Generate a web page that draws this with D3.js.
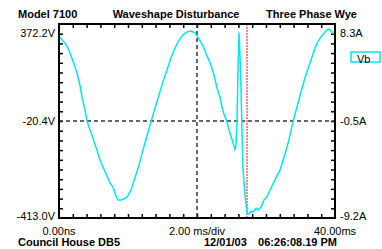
<!DOCTYPE html>
<html>
<head>
<meta charset="utf-8">
<script src="https://cdn.jsdelivr.net/npm/d3@7"></script>
<style>
  body { margin: 0; background: #fff; }
  text { font-family: "Liberation Sans", Arial, sans-serif; font-size: 11px; fill: #000; }
  .bold { font-weight: bold; }
</style>
</head>
<body>
<div id="chart"></div>
<script>
// waveform: time in ms, voltage in V
let timeMs = [0.15, 0.44, 0.87, 1.30, 1.59, 2.17, 2.61, 3.04, 3.33, 3.77, 4.06, 4.49, 4.78, 5.22, 5.51,
  5.94, 6.38, 6.96, 7.39, 7.83, 8.26, 8.55, 8.99, 9.42, 9.86, 10.43, 11.01, 11.59, 12.17, 12.75,
  13.33, 13.91, 14.49, 15.07, 15.65, 16.23, 16.81, 17.39, 17.97, 18.55, 19.13, 19.71, 20.29, 20.87,
  21.45, 22.03, 22.46, 22.90, 23.33, 23.62, 23.91, 24.35, 24.64, 24.93, 25.22, 25.51, 25.65, 25.80,
  25.94, 26.09, 26.23, 26.38, 26.52, 26.67, 26.96, 27.25, 27.54, 27.83, 28.12, 28.55, 28.84, 29.28,
  29.71, 30.14, 30.72, 31.30, 32.03, 32.75, 33.33, 33.91, 34.49, 35.07, 35.65, 36.23, 36.81, 37.39,
  37.97, 38.55, 38.99, 39.42, 39.86];
let voltage = [320, 307, 295, 275, 255, 210, 174, 125, 77, 24, -20, -57, -77, -118, -138,
  -178, -207, -243, -271, -288, -324, -340, -340, -336, -328, -300, -251, -199, -138, -81,
  -24, 32, 85, 138, 186, 235, 275, 307, 328, 340, 344, 336, 312, 283,
  243, 206, 166, 113, 77, 36, 8, -24, -57, -81, -109, -138, -118, -16,
  186, 336, 247, 117, -57, -219, -320, -393, -397, -385, -389, -373, -381, -369,
  -340, -328, -292, -259, -219, -154, -97, -24, 36, 97, 154, 202, 251, 295,
  320, 340, 352, 344, 332];

let voltRange = [-413.0, 372.2];
let ampRange = [-9.2, 8.3];
let voltLabels = [{v: 372.2, t: "372.2V"}, {v: -20.4, t: "-20.4V"}, {v: -413.0, t: "-413.0V"}];
let ampLabels = [{v: 8.3, t: "8.3A"}, {v: -0.45, t: "-0.5A"}, {v: -9.2, t: "-9.2A"}];
let timeLabels = [{v: 0, t: "0.00ns"}, {v: 20, t: "2.00 ms/div"}, {v: 40, t: "40.00ms"}];
let cursorMs = 27.25;

let margin = {top: 24, right: 47, bottom: 31, left: 59},
    width = 382 - margin.left - margin.right,
    height = 249 - margin.top - margin.bottom;

let svg = d3.select("div#chart")
    .append("svg")
    .attr("width", 382)
    .attr("height", 249);

let x = d3.scaleLinear().domain([0, 40]).range([0, width]);
let y = d3.scaleLinear().domain(voltRange).range([height, 0]);
let yA = d3.scaleLinear().domain(ampRange).range([height, 0]);

let xTicks = d3.range(1, 20).map(function(i) { return i * 2; });
let yTicks = d3.range(1, 20).map(function(i) { return voltRange[0] + i * (voltRange[1] - voltRange[0]) / 20; });

let focus = svg.append("g")
    .attr("transform", "translate(" + margin.left + "," + margin.top + ")");

// inward ticks on all four sides
function tickAxis(axis, transform) {
  let g = focus.append("g").attr("transform", transform).call(axis);
  g.select(".domain").remove();
  g.selectAll("line").attr("stroke", "#000").attr("stroke-width", 1.5);
}
tickAxis(d3.axisTop(x).tickValues(xTicks).tickSize(-4).tickFormat(""), "translate(0,0)");
tickAxis(d3.axisBottom(x).tickValues(xTicks).tickSize(-4).tickFormat(""), "translate(0," + height + ")");
tickAxis(d3.axisLeft(y).tickValues(yTicks).tickSize(-4).tickFormat(""), "translate(0,0)");
tickAxis(d3.axisRight(y).tickValues(yTicks).tickSize(-4).tickFormat(""), "translate(" + width + ",0)");

// centre cross
focus.append("line")
    .attr("x1", 0).attr("x2", width)
    .attr("y1", y(-20.4)).attr("y2", y(-20.4))
    .attr("stroke", "#333").attr("stroke-width", 1.5).attr("stroke-dasharray", "4,3");
focus.append("line")
    .attr("x1", x(20)).attr("x2", x(20))
    .attr("y1", 0).attr("y2", height)
    .attr("stroke", "#333").attr("stroke-width", 1.5).attr("stroke-dasharray", "4,3");

// trigger cursor
focus.append("line")
    .attr("x1", x(cursorMs)).attr("x2", x(cursorMs))
    .attr("y1", 0).attr("y2", height)
    .attr("stroke", "#ff6060").attr("stroke-width", 1.5).attr("stroke-dasharray", "2,1");

let points = timeMs.map(function(t, i) { return {t: t, v: voltage[i]}; });
let line = d3.line()
    .x(function(d) { return x(d.t); })
    .y(function(d) { return y(d.v); });

focus.append("path")
    .datum(points)
    .attr("fill", "none")
    .attr("stroke", "#00e6f0")
    .attr("stroke-width", 1.5)
    .attr("stroke-linejoin", "round")
    .attr("d", line);

focus.append("rect")
    .attr("width", width).attr("height", height)
    .attr("fill", "none").attr("stroke", "#000").attr("stroke-width", 2);

// axis labels, kept inside the frame's height
function labelY(py) { return Math.max(9, Math.min(height - 2, py)) + 4; }
focus.selectAll("text.vl").data(voltLabels).enter().append("text")
    .attr("x", -4).attr("y", function(d) { return labelY(y(d.v)); })
    .attr("text-anchor", "end").text(function(d) { return d.t; });
focus.selectAll("text.al").data(ampLabels).enter().append("text")
    .attr("x", width + 5).attr("y", function(d) { return labelY(yA(d.v)); })
    .text(function(d) { return d.t; });
focus.selectAll("text.tl").data(timeLabels).enter().append("text")
    .attr("x", function(d) { return x(d.v); }).attr("y", height + 17)
    .attr("text-anchor", "middle").text(function(d) { return d.t; });

// titles
svg.append("text").attr("class", "bold").attr("x", 18).attr("y", 18).text("Model 7100");
svg.append("text").attr("class", "bold").attr("x", 176).attr("y", 18).attr("text-anchor", "middle").text("Waveshape Disturbance");
svg.append("text").attr("class", "bold").attr("x", 357).attr("y", 18).attr("text-anchor", "end").text("Three Phase Wye");
svg.append("text").attr("class", "bold").attr("x", 18).attr("y", 246).text("Council House DB5");
svg.append("text").attr("class", "bold").attr("x", 204).attr("y", 246).text("12/01/03");
svg.append("text").attr("class", "bold").attr("x", 337).attr("y", 246).attr("text-anchor", "end").text("06:26:08.19 PM");

// legend
svg.append("rect").attr("x", 351).attr("y", 52).attr("width", 29).attr("height", 10)
    .attr("fill", "#fff").attr("stroke", "#00e6f0").attr("stroke-width", 1.5);
svg.append("text").attr("x", 357).attr("y", 63).text("Vb");
</script>
</body>
</html>
